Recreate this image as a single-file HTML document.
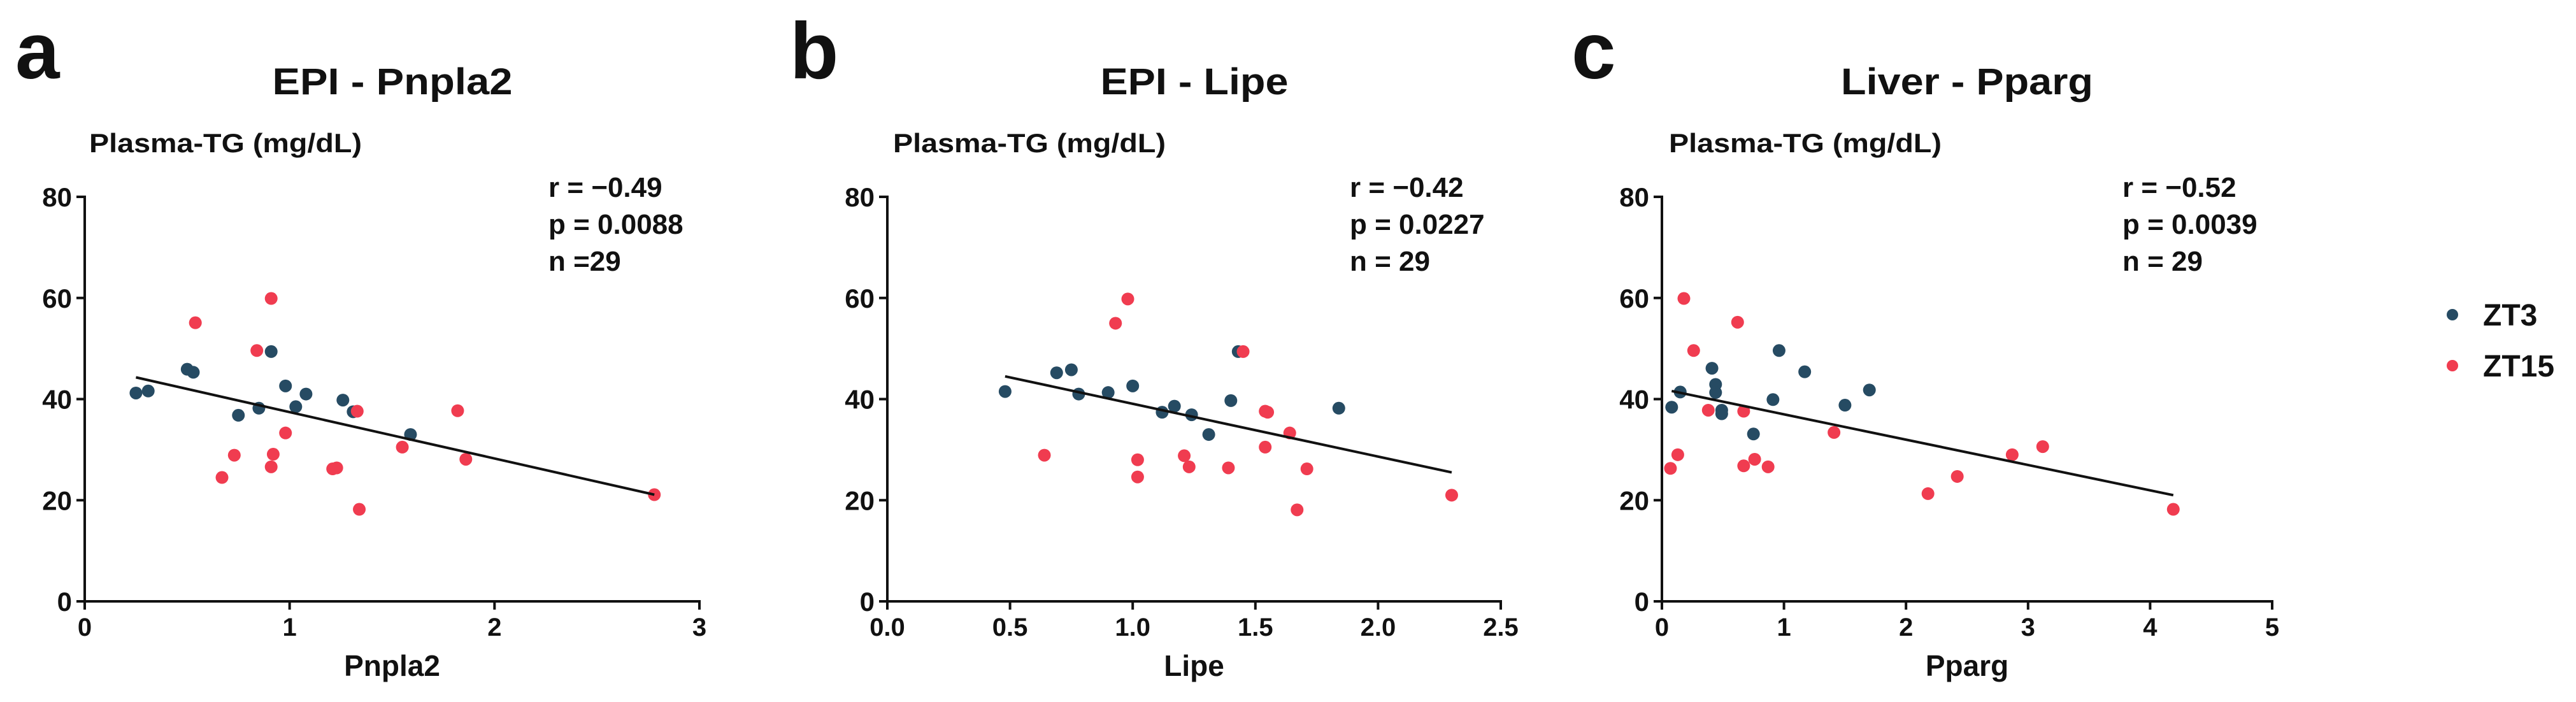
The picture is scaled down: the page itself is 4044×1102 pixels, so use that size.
<!DOCTYPE html>
<html><head><meta charset="utf-8"><style>
html,body{margin:0;padding:0;background:#fff;}
svg{display:block;}
text{font-family:"Liberation Sans",sans-serif;font-weight:bold;fill:#111;}
</style></head>
<body>
<svg id="fig" width="4044" height="1102" viewBox="0 0 4044 1102" xmlns="http://www.w3.org/2000/svg"></svg>
<script>
// Panel a: EPI - Pnpla2
const aBlueX=[0.25,0.31,0.50,0.53,0.75,0.85,0.91,0.98,1.03,1.08,1.26,1.31,1.59];
const aBlueY=[41.2,41.6,45.9,45.3,36.8,38.2,49.4,42.6,38.5,41.0,39.8,37.5,33.0];
const aRedX=[0.54,0.91,0.84,1.33,1.82,0.98,0.73,0.92,0.91,0.67,1.21,1.23,1.55,1.86,1.34,2.78];
const aRedY=[55.1,59.9,49.6,37.6,37.7,33.3,28.9,29.1,26.6,24.5,26.2,26.4,30.5,28.1,18.2,21.1];
const aLineX=[0.25,2.78];
const aLineY=[44.3,21.1];
const aXTicks=["0","1","2","3"];
const aXTickVals=[0,1,2,3];
// Panel b: EPI - Lipe
const bBlueX=[0.48,0.69,0.75,0.78,0.90,1.00,1.12,1.17,1.24,1.31,1.40,1.43,1.84];
const bBlueY=[41.5,45.2,45.8,41.0,41.3,42.6,37.4,38.6,36.9,33.0,39.7,49.4,38.2];
const bRedX=[0.98,0.93,1.45,1.54,1.55,1.64,0.64,1.02,1.02,1.21,1.23,1.39,1.54,1.71,1.67,2.30];
const bRedY=[59.8,55.0,49.4,37.6,37.4,33.3,28.9,28.0,24.6,28.8,26.6,26.4,30.5,26.2,18.1,21.0];
const bLineX=[0.48,2.30];
const bLineY=[44.5,25.5];
const bXTicks=["0.0","0.5","1.0","1.5","2.0","2.5"];
const bXTickVals=[0,0.5,1,1.5,2,2.5];
// Panel c: Liver - Pparg
const cBlueX=[0.08,0.15,0.41,0.44,0.44,0.49,0.49,0.75,0.91,0.96,1.17,1.50,1.70];
const cBlueY=[38.4,41.4,46.1,42.9,41.3,37.8,37.1,33.1,39.9,49.6,45.4,38.8,41.8];
const cRedX=[0.18,0.62,0.26,0.38,0.67,1.41,0.13,0.07,0.67,0.76,0.87,2.87,3.12,2.42,2.18,4.19];
const cRedY=[59.9,55.2,49.6,37.8,37.6,33.4,29.0,26.3,26.8,28.1,26.6,29.0,30.6,24.7,21.3,18.2];
const cLineX=[0.08,4.19];
const cLineY=[41.6,21.0];
const cXTicks=["0","1","2","3","4","5"];
const cXTickVals=[0,1,2,3,4,5];
const yTicks=["0","20","40","60","80"];
const yTickVals=[0,20,40,60,80];

const BLUE="#264b63", RED="#f03c50";
const svg=document.getElementById('fig');
const NS="http://www.w3.org/2000/svg";
function el(tag,attrs,parent){const e=document.createElementNS(NS,tag);for(const k in attrs)e.setAttribute(k,attrs[k]);(parent||svg).appendChild(e);return e;}
function txt(s,attrs,parent){const t=el('text',attrs,parent);t.textContent=s;return t;}

function panel(p){
  const g=el('g',{});
  
  
  const Y0=944,Y1=309;
  const sx=v=>p.x0+(v-p.xmin)/(p.xmax-p.xmin)*(p.x1-p.x0);
  const sy=v=>Y0-v/80*(Y0-Y1);
  const L=txt(p.id,{x:p.letterX,y:123,'font-size':125},g);
  
  
  const T=txt(p.title,{x:p.titleX,y:148,'font-size':58,'text-anchor':'middle',textLength:p.titleW,lengthAdjust:'spacingAndGlyphs'},g);
  
  
  const YT=txt('Plasma-TG (mg/dL)',{x:p.ytX,y:239,'font-size':42,textLength:428,lengthAdjust:'spacingAndGlyphs'},g);
  
  
  p.stats.forEach((s,i)=>{
    const st=txt(s,{x:p.statX,y:309+i*58,'font-size':44},g);
    
    
  });
  // axes
  const ya=el('line',{x1:p.x0,y1:Y1-2,x2:p.x0,y2:Y0+2,stroke:'#111','stroke-width':4},g);
  
  
  const xa=el('line',{x1:p.x0-2,y1:Y0,x2:p.x1+2,y2:Y0,stroke:'#111','stroke-width':4},g);
  
  
  yTickVals.forEach((v,i)=>{
    el('line',{x1:p.x0-13,y1:sy(v),x2:p.x0,y2:sy(v),stroke:'#111','stroke-width':4},g);
    const t=txt(yTicks[i],{x:p.x0-20,y:sy(v)+15,'font-size':42,'text-anchor':'end'},g);
    
    
  });
  p.xTickVals.forEach((v,i)=>{
    el('line',{x1:sx(v),y1:Y0,x2:sx(v),y2:Y0+13,stroke:'#111','stroke-width':4},g);
    const t=txt(p.xTicks[i],{x:sx(v),y:998,'font-size':40,'text-anchor':'middle'},g);
    
    
  });
  const XT=txt(p.xTitle,{x:(p.x0+p.x1)/2,y:1061,'font-size':46,'text-anchor':'middle'},g);
  
  
  p.blueX.forEach((v,i)=>{
    const c=el('circle',{cx:sx(v),cy:sy(p.blueY[i]),r:10,fill:BLUE},g);
    
    
  });
  p.redX.forEach((v,i)=>{
    const c=el('circle',{cx:sx(v),cy:sy(p.redY[i]),r:10,fill:RED},g);
    
    
  });
  const ln=el('line',{x1:sx(p.lineX[0]),y1:sy(p.lineY[0]),x2:sx(p.lineX[1]),y2:sy(p.lineY[1]),stroke:'#111','stroke-width':4},g);
  
  
}

panel({id:'a',letterX:24,title:'EPI - Pnpla2',titleX:616,titleW:377,ytX:140,statX:861,
  stats:['r = \u22120.49','p = 0.0088','n =29'],x0:133,x1:1098,xmin:0,xmax:3,
  xTicks:aXTicks,xTickVals:aXTickVals,xTitle:'Pnpla2',blueX:aBlueX,blueY:aBlueY,redX:aRedX,redY:aRedY,lineX:aLineX,lineY:aLineY});
panel({id:'b',letterX:1240,title:'EPI - Lipe',titleX:1875,titleW:295,ytX:1402,statX:2119,
  stats:['r = \u22120.42','p = 0.0227','n = 29'],x0:1393,x1:2356,xmin:0,xmax:2.5,
  xTicks:bXTicks,xTickVals:bXTickVals,xTitle:'Lipe',blueX:bBlueX,blueY:bBlueY,redX:bRedX,redY:bRedY,lineX:bLineX,lineY:bLineY});
panel({id:'c',letterX:2467,title:'Liver - Pparg',titleX:3088,titleW:396,ytX:2620,statX:3332,
  stats:['r = \u22120.52','p = 0.0039','n = 29'],x0:2609,x1:3567,xmin:0,xmax:5,
  xTicks:cXTicks,xTickVals:cXTickVals,xTitle:'Pparg',blueX:cBlueX,blueY:cBlueY,redX:cRedX,redY:cRedY,lineX:cLineX,lineY:cLineY});

// legend
const lg=el('g',{});


const l1=el('g',{},lg);


el('circle',{cx:3850,cy:494,r:9,fill:BLUE},l1);
txt('ZT3',{x:3898,y:511,'font-size':48},l1);
const l2=el('g',{},lg);


el('circle',{cx:3850,cy:574,r:9,fill:RED},l2);
txt('ZT15',{x:3898,y:591,'font-size':48},l2);
</script>
</body></html>
